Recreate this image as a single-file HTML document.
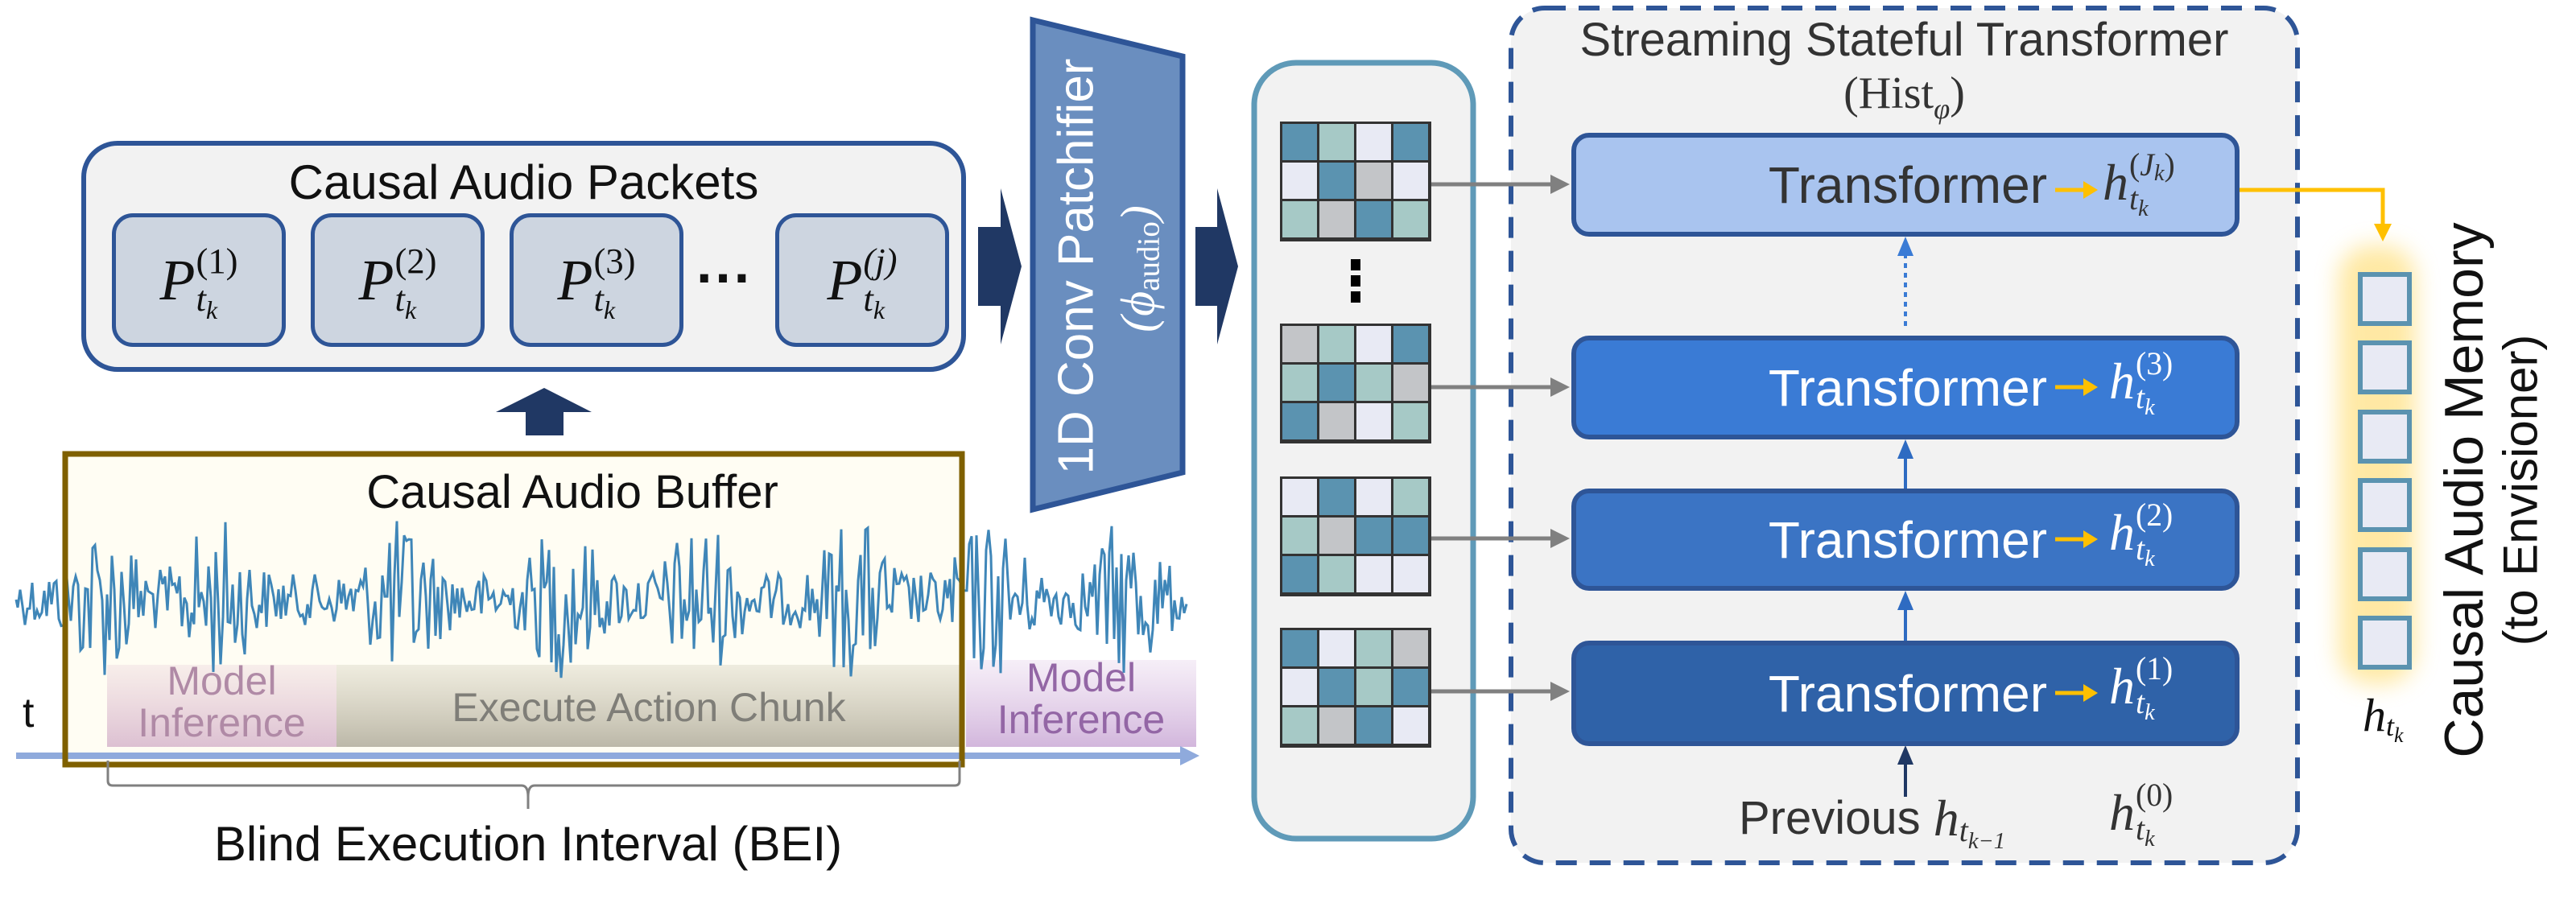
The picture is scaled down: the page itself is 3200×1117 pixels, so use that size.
<!DOCTYPE html>
<html><head><meta charset="utf-8">
<style>
html,body{margin:0;padding:0;background:#fff;}
#c{position:relative;width:3200px;height:1117px;overflow:hidden;font-family:"Liberation Sans","DejaVu Sans",sans-serif;}
.a{position:absolute;}
.t{position:absolute;white-space:nowrap;text-align:center;}
.mm{display:inline-flex;align-items:center;font-family:"Liberation Serif","DejaVu Serif",serif;font-style:italic;line-height:1;}
.ss{display:inline-flex;flex-direction:column;font-size:0.62em;line-height:1.05;margin-left:1px;}
.ss .up{font-style:normal;}
.k{font-size:0.72em;position:relative;top:0.3em;}
.pk{position:absolute;top:265px;width:216px;height:166px;background:#cdd5e0;border:5px solid #2e5597;border-radius:26px;box-sizing:border-box;display:flex;align-items:center;justify-content:center;font-size:72px;color:#111;}
.tr{position:absolute;left:1952px;width:830px;border:6px solid #2e5597;border-radius:22px;box-sizing:border-box;}
.tr .lab{position:absolute;left:0;top:0;bottom:0;width:585px;display:flex;align-items:center;justify-content:flex-end;font-size:64px;}
.hl{position:absolute;left:2612px;font-size:64px;}
.cell{position:absolute;}
</style></head><body><div id="c">
<svg class="a" style="left:0;top:0" width="3200" height="1117">
<defs>
<linearGradient id="gband" x1="0" y1="0" x2="0" y2="1"><stop offset="0" stop-color="#c9c4b0" stop-opacity="0.3"/><stop offset="1" stop-color="#b8b4a4" stop-opacity="0.95"/></linearGradient>
<linearGradient id="pband" x1="0" y1="0" x2="0" y2="1"><stop offset="0" stop-color="#e6cbd6" stop-opacity="0.3"/><stop offset="1" stop-color="#dcc0d2"/></linearGradient>
<linearGradient id="vband" x1="0" y1="0" x2="0" y2="1"><stop offset="0" stop-color="#e0c8e6" stop-opacity="0.3"/><stop offset="1" stop-color="#d2b6dc"/></linearGradient>
<filter id="glow" x="-50%" y="-20%" width="200%" height="140%"><feGaussianBlur stdDeviation="14"/></filter>
</defs>
<rect x="104" y="178" width="1093" height="281" rx="42" fill="#f2f2f2" stroke="#2e5597" stroke-width="6"/>
<polygon points="616,512 676,482 735,512 700,512 700,541 653,541 653,512" fill="#203864"/>
<rect x="81" y="564" width="1114" height="386" fill="#fffdf3" stroke="none"/>
<rect x="133" y="826" width="285" height="102" fill="url(#pband)"/>
<rect x="418" y="826" width="776" height="102" fill="url(#gband)"/>
<rect x="1200" y="820" width="286" height="108" fill="url(#vband)"/>
<path id="wave" d="" fill="none" stroke="#3f86b8" stroke-width="3"/>
<line x1="20" y1="939" x2="1470" y2="939" stroke="#8faadc" stroke-width="8"/>
<polygon points="1466,927 1490,939 1466,951" fill="#8faadc"/>
<rect x="81" y="564" width="1114" height="386" fill="none" stroke="#7f6000" stroke-width="7"/>
<path d="M134,945 V970 Q134,976 140,976 H648 Q656,976 656,990 V1005 M656,990 Q656,976 664,976 H1186 Q1192,976 1192,970 V945" fill="none" stroke="#808080" stroke-width="3"/>
<polygon points="1215,282 1243,282 1243,234 1269,331 1243,428 1243,380 1215,380" fill="#203864"/>
<polygon points="1485,282 1512,282 1512,234 1538,331 1512,428 1512,380 1485,380" fill="#203864"/>
<polygon points="1283,25 1469,70 1469,587 1283,633" fill="#6a8ebf" stroke="#2e5597" stroke-width="7"/>
<rect x="1558" y="78" width="272" height="964" rx="52" fill="#f2f2f2" stroke="#5f9ab8" stroke-width="7"/>
<rect x="1877" y="10" width="977" height="1062" rx="42" fill="#f2f2f2" stroke="#2e5597" stroke-width="6" stroke-dasharray="26,16"/>
<g stroke="#808080" stroke-width="5" fill="#808080">
<line x1="1776" y1="229" x2="1930" y2="229"/><polygon points="1926,217 1950,229 1926,241" stroke="none"/>
<line x1="1776" y1="481" x2="1930" y2="481"/><polygon points="1926,469 1950,481 1926,493" stroke="none"/>
<line x1="1776" y1="669" x2="1930" y2="669"/><polygon points="1926,657 1950,669 1926,681" stroke="none"/>
<line x1="1776" y1="859" x2="1930" y2="859"/><polygon points="1926,847 1950,859 1926,871" stroke="none"/>
</g>
<line x1="2367" y1="405" x2="2367" y2="318" stroke="#3a7bd5" stroke-width="4" stroke-dasharray="6,6"/>
<polygon points="2357,318 2367,294 2377,318" fill="#3a7bd5"/>
<line x1="2367" y1="607" x2="2367" y2="570" stroke="#2e6bc2" stroke-width="4"/>
<polygon points="2357,570 2367,546 2377,570" fill="#2e6bc2"/>
<line x1="2367" y1="796" x2="2367" y2="758" stroke="#2e6bc2" stroke-width="4"/>
<polygon points="2357,758 2367,734 2377,758" fill="#2e6bc2"/>
<line x1="2367" y1="990" x2="2367" y2="950" stroke="#203864" stroke-width="4"/>
<polygon points="2357,950 2367,926 2377,950" fill="#203864"/>
<rect x="2905" y="305" width="96" height="545" rx="40" fill="#ffd75a" opacity="0.55" filter="url(#glow)"/>
<g fill="#e8eaf4" stroke="#5b93b0" stroke-width="6">
<rect x="2932" y="341" width="61" height="61"/><rect x="2932" y="426" width="61" height="61"/><rect x="2932" y="512" width="61" height="61"/><rect x="2932" y="597" width="61" height="61"/><rect x="2932" y="683" width="61" height="61"/><rect x="2932" y="768" width="61" height="61"/>
</g>
<polyline points="2730,236 2960,236 2960,280" fill="none" stroke="#ffc000" stroke-width="5"/>
<polygon points="2949,278 2960,300 2971,278" fill="#ffc000"/>
</svg>

<div class="t" style="left:104px;width:1093px;top:192px;font-size:60px;color:#111;">Causal Audio Packets</div>
<div class="pk" style="left:139px"><span class="mm">P<span class="ss"><span class="up">(1)</span><span>t<span class="k">k</span></span></span></span></div>
<div class="pk" style="left:386px"><span class="mm">P<span class="ss"><span class="up">(2)</span><span>t<span class="k">k</span></span></span></span></div>
<div class="pk" style="left:633px"><span class="mm">P<span class="ss"><span class="up">(3)</span><span>t<span class="k">k</span></span></span></span></div>
<div class="t" style="left:865px;top:305px;font-size:70px;font-weight:bold;color:#111;">···</div>
<div class="pk" style="left:963px"><span class="mm">P<span class="ss"><span class="up" style="font-style:italic">(j)</span><span>t<span class="k">k</span></span></span></span></div>

<div class="t" style="left:81px;width:1260px;top:578px;font-size:58px;color:#111;">Causal Audio Buffer</div>
<div class="t" style="left:133px;width:285px;top:820px;font-size:50px;line-height:52px;color:#b08aa6;">Model<br>Inference</div>
<div class="t" style="left:418px;width:776px;top:850px;font-size:50px;color:#7f7e78;">Execute Action Chunk</div>
<div class="t" style="left:1200px;width:286px;top:816px;font-size:50px;line-height:52px;color:#9366a5;">Model<br>Inference</div>
<div class="t" style="left:28px;top:856px;font-size:52px;color:#111;">t</div>
<div class="t" style="left:156px;width:1000px;top:1014px;font-size:60px;color:#111;">Blind Execution Interval (BEI)</div>

<div class="t" style="left:1337px;top:331px;font-size:62px;color:#fff;transform:translate(-50%,-50%) rotate(-90deg);">1D Conv Patchifier</div>
<div class="t" style="left:1413px;top:334px;font-size:60px;color:#fff;transform:translate(-50%,-50%) rotate(-90deg);"><span class="mm">(ϕ<span style="font-style:normal;font-size:0.65em;position:relative;top:0.35em">audio</span>)</span></div>

<div id="grids"></div>

<div class="t" style="left:1877px;width:977px;top:16px;font-size:58px;color:#333;">Streaming Stateful Transformer</div>
<div class="t" style="left:1877px;width:977px;top:84px;font-size:56px;color:#333;font-family:'Liberation Serif',serif;">(Hist<span class="m" style="font-style:italic;font-size:0.65em;position:relative;top:0.35em">φ</span>)</div>

<div class="tr" style="top:165px;height:129px;background:#a9c4ef;"><div class="lab" style="color:#333;">Transformer</div></div>
<div class="tr" style="top:417px;height:129px;background:#3a7bd5;"><div class="lab" style="color:#fff;">Transformer</div></div>
<div class="tr" style="top:607px;height:127px;background:#3b74c4;"><div class="lab" style="color:#fff;">Transformer</div></div>
<div class="tr" style="top:796px;height:131px;background:#2f62a8;"><div class="lab" style="color:#fff;">Transformer</div></div>
<svg class="a" style="left:0;top:0" width="3200" height="1117">
<g fill="#ffc000" stroke="#ffc000" stroke-width="5">
<line x1="2553" y1="236" x2="2590" y2="236"/><polygon points="2588,225 2606,236 2588,247" stroke="none"/>
<line x1="2553" y1="481" x2="2590" y2="481"/><polygon points="2588,470 2606,481 2588,492" stroke="none"/>
<line x1="2553" y1="670" x2="2590" y2="670"/><polygon points="2588,659 2606,670 2588,681" stroke="none"/>
<line x1="2553" y1="861" x2="2590" y2="861"/><polygon points="2588,850 2606,861 2588,872" stroke="none"/>
</g></svg>
<div class="hl" style="top:185px;color:#333;"><span class="mm">h<span class="ss"><span class="up">(<i>J<span class="k" style="top:0.2em">k</span></i>)</span><span>t<span class="k">k</span></span></span></span></div>
<div class="hl" style="top:432px;color:#fff;left:2620px"><span class="mm">h<span class="ss"><span class="up">(3)</span><span>t<span class="k">k</span></span></span></span></div>
<div class="hl" style="top:620px;color:#fff;left:2620px"><span class="mm">h<span class="ss"><span class="up">(2)</span><span>t<span class="k">k</span></span></span></span></div>
<div class="hl" style="top:811px;color:#fff;left:2620px"><span class="mm">h<span class="ss"><span class="up">(1)</span><span>t<span class="k">k</span></span></span></span></div>
<div class="a" style="left:2160px;top:985px;font-size:58px;color:#333;line-height:1;display:flex;align-items:center;">Previous&nbsp;<span class="mm" style="font-size:64px">h<span style="font-size:0.62em;position:relative;top:0.4em">t<span class="k">k−1</span></span></span></div>
<div class="hl" style="top:968px;color:#333;left:2620px"><span class="mm">h<span class="ss"><span class="up">(0)</span><span>t<span class="k">k</span></span></span></span></div>
<div class="a" style="left:2935px;top:855px;font-size:58px;color:#111;"><span class="mm">h<span style="font-size:0.62em;position:relative;top:0.4em">t<span class="k">k</span></span></span></div>
<div class="t" style="left:3061px;top:609px;font-size:68px;color:#111;transform:translate(-50%,-50%) rotate(-90deg);">Causal Audio Memory</div>
<div class="t" style="left:3131px;top:609px;font-size:60px;color:#111;transform:translate(-50%,-50%) rotate(-90deg);">(to Envisioner)</div>

<script>
(function(){
var D='#5b93b0',L='#a6c9c6',W='#e8eaf4',G='#c3c5c8';
var grids=[[153,[D,L,W,D,W,D,G,W,L,G,D,L]],[404,[G,L,W,D,L,D,L,G,D,G,W,L]],[594,[W,D,W,L,L,G,D,D,D,L,W,W]],[782,[D,W,L,G,W,D,L,D,L,G,D,W]]];
var h='';
grids.forEach(function(g){var y=g[0];
h+='<div class="cell" style="left:1590px;top:'+(y-2)+'px;width:188px;height:149px;background:#333"></div>';
for(var r=0;r<3;r++)for(var c=0;c<4;c++){h+='<div class="cell" style="left:'+(1593+c*46)+'px;top:'+(y+1+r*48)+'px;width:43px;height:45px;background:'+g[1][r*4+c]+'"></div>';}
});
h+='<div class="cell" style="left:1678px;top:322px;width:12px;height:14px;background:#000"></div><div class="cell" style="left:1678px;top:342px;width:12px;height:14px;background:#000"></div><div class="cell" style="left:1678px;top:362px;width:12px;height:14px;background:#000"></div>';
document.getElementById('grids').innerHTML=h;
var s=12345;function rnd(){s=(s*1103515245+12345)%2147483648;return s/2147483648;}
var bursts=[130,270,500,700,870,1060,1230,1400];
var d='M20,745';
for(var x=22;x<1476;x+=3){var env=0.35;bursts.forEach(function(b){env+=0.85*Math.exp(-Math.pow((x-b)/40,2));});env=Math.min(env,1.1);var a=(rnd()*2-1)*90*env;d+=' L'+x+','+(745+a).toFixed(1);}
document.getElementById('wave').setAttribute('d',d);
})();
</script>
</div></body></html>
